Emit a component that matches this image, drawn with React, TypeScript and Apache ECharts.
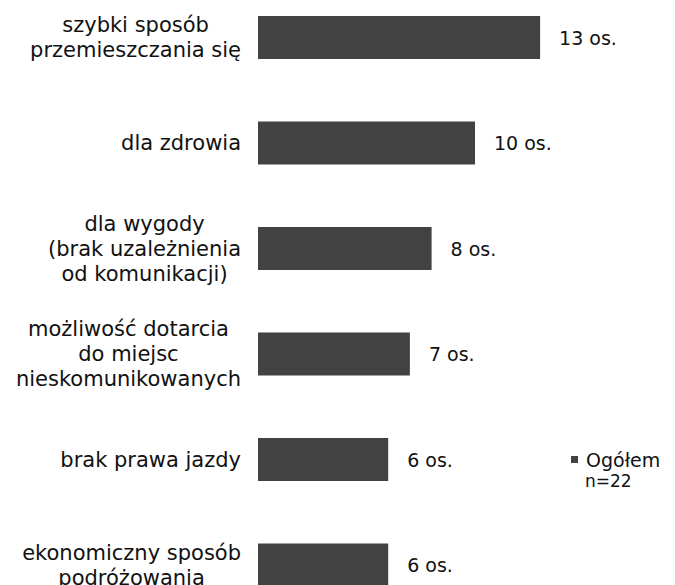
import React, { useEffect, useRef } from "react";
import * as echarts from "echarts";

const categories = [
  "szybki sposób\nprzemieszczania się",
  "dla zdrowia",
  "dla wygody\n(brak uzależnienia\nod komunikacji)",
  "możliwość dotarcia\ndo miejsc\nnieskomunikowanych",
  "brak prawa jazdy",
  "ekonomiczny sposób\npodróżowania",
];
const values = [13, 10, 8, 7, 6, 6];
const seriesName = "Ogółem";
const sampleNote = "n=22";

const FONT = "DejaVu Sans";
const SHIFT = 16; // chart div starts above the page so the last bar is cut like the reference

export default function App() {
  const ref = useRef<HTMLDivElement>(null);
  useEffect(() => {
    if (!ref.current) return;
    const chart = echarts.init(ref.current, undefined, { renderer: "svg" });
    chart.setOption({
      animation: false,
      backgroundColor: "#ffffff",
      grid: { left: 258, top: 0.75, width: 325.5, height: 633, containLabel: false },
      xAxis: {
        type: "value",
        min: 0,
        max: 15,
        show: false,
      },
      yAxis: {
        type: "category",
        data: categories,
        inverse: true,
        axisLine: { show: false },
        axisTick: { show: false },
        splitLine: { show: false },
        axisLabel: {
          margin: 17,
          color: "#111",
          fontFamily: FONT,
          fontSize: 21,
          lineHeight: 25,
          formatter: (v: string) =>
            v
              .split("\n")
              .map((l) => `{c|${l}}`)
              .join("\n"),
          rich: {
            c: { align: "center", fontFamily: FONT, fontSize: 21, lineHeight: 25, color: "#111" },
          },
        },
      },
      legend: {
        left: 571,
        top: 450 + SHIFT,
        padding: 0,
        itemWidth: 7,
        itemHeight: 7,
        icon: "rect",
        data: [seriesName],
        textStyle: { fontFamily: FONT, fontSize: 19, lineHeight: 18, color: "#111", padding: [0, 0, 0, 3] },
      },
      graphic: [
        {
          type: "text",
          left: 585,
          top: 472.5 + SHIFT,
          style: { text: sampleNote, font: `17px "${FONT}"`, lineHeight: 17, fill: "#111" },
        },
      ],
      series: [
        {
          name: seriesName,
          type: "bar",
          data: values,
          barWidth: 43,
          itemStyle: { color: "#424242" },
          label: {
            show: true,
            position: "right",
            distance: 19,
            formatter: "{c} os.",
            fontFamily: FONT,
            fontSize: 19,
            color: "#111",
          },
        },
      ],
    });
    return () => chart.dispose();
  }, []);
  return (
    <div
      ref={ref}
      style={{ position: "absolute", left: 0, top: -SHIFT, width: 675, height: 640 }}
    />
  );
}
